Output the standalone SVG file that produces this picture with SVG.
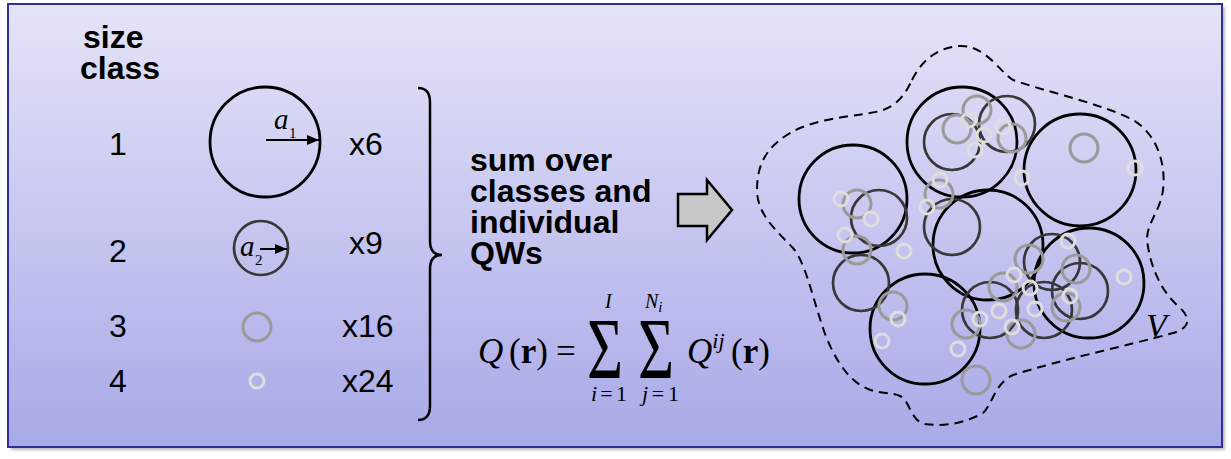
<svg xmlns="http://www.w3.org/2000/svg" width="1231" height="459" viewBox="0 0 1231 459">
<defs>
  <linearGradient id="bg" x1="0" y1="0" x2="0" y2="1">
    <stop offset="0" stop-color="#E4E4F9"/>
    <stop offset="1" stop-color="#A9A9E8"/>
  </linearGradient>
  <filter id="sh" x="-5%" y="-5%" width="110%" height="110%">
    <feGaussianBlur stdDeviation="1.5"/>
  </filter>
  <marker id="ah" viewBox="0 0 12 10" refX="12" refY="5" markerWidth="12" markerHeight="10" markerUnits="userSpaceOnUse" orient="auto">
    <path d="M0,0 L12,5 L0,10 Z" fill="#000"/>
  </marker>
  <style>
    .lbl{font-family:"Liberation Sans",Arial,sans-serif;font-size:32px;fill:#000}
    .b{font-weight:bold}
    .m{font-family:"Liberation Serif","Times New Roman",serif;fill:#000}
    .c1{fill:none;stroke:#000;stroke-width:2.8}
    .c2{fill:none;stroke:#383838;stroke-width:2.7}
    .c3{fill:none;stroke:#9a9a9a;stroke-width:3}
    .c4{fill:none;stroke:#dedede;stroke-width:3}
  </style>
</defs>
<rect x="11" y="7" width="1214" height="443" fill="#888" opacity="0.6" filter="url(#sh)"/>
<rect x="8" y="4" width="1214" height="443" fill="url(#bg)" stroke="#2E3192" stroke-width="2"/>

<g id="header">
  <text class="lbl b" x="83" y="48">size</text>
  <text class="lbl b" x="80" y="79">class</text>
</g>

<g id="class1">
  <text class="lbl" x="109" y="155">1</text>
  <circle class="c1" cx="265" cy="142" r="55"/>
  <line x1="266" y1="140" x2="319" y2="140" stroke="#000" stroke-width="2" marker-end="url(#ah)"/>
  <text class="m" x="274" y="129" font-size="29" font-style="italic">a</text>
  <text class="m" x="289" y="138" font-size="15">1</text>
  <text class="lbl" x="349" y="155">x6</text>
</g>
<g id="class2">
  <text class="lbl" x="109" y="262">2</text>
  <circle class="c2" cx="261" cy="248" r="27"/>
  <line x1="260" y1="249" x2="287" y2="249" stroke="#000" stroke-width="2" marker-end="url(#ah)"/>
  <text class="m" x="240" y="256" font-size="29" font-style="italic">a</text>
  <text class="m" x="255" y="265" font-size="15">2</text>
  <text class="lbl" x="349" y="254">x9</text>
</g>
<g id="class3">
  <text class="lbl" x="109" y="337">3</text>
  <circle class="c3" cx="257" cy="327" r="14"/>
  <text class="lbl" x="342" y="337">x16</text>
</g>
<g id="class4">
  <text class="lbl" x="109" y="392">4</text>
  <circle class="c4" cx="257" cy="381" r="7"/>
  <text class="lbl" x="342" y="392">x24</text>
</g>

<g id="brace">
  <path d="M418,88 Q430,88 430,102 L430,241 Q430,255 442,255 Q430,255 430,269 L430,406 Q430,420 418,420" fill="none" stroke="#000" stroke-width="2.5"/>
</g>

<g id="sumtext">
  <text class="lbl b" x="470" y="171">sum over</text>
  <text class="lbl b" x="470" y="202">classes and</text>
  <text class="lbl b" x="470" y="233">individual</text>
  <text class="lbl b" x="470" y="264">QWs</text>
</g>

<g id="arrow">
  <path d="M678,194 L707,194 L707,180 L732,210 L707,240 L707,226 L678,226 Z" fill="#C8C8C8" stroke="#000" stroke-width="2.5" stroke-linejoin="miter"/>
</g>

<g id="formula" class="m">
  <text x="478" y="363" font-size="35"><tspan font-style="italic">Q</tspan><tspan x="509">(</tspan><tspan font-weight="bold">r</tspan><tspan>)</tspan><tspan x="556">=</tspan></text>
  <text transform="translate(587,378) scale(1,1.4)" font-size="62">Σ</text>
  <text transform="translate(638,378) scale(1,1.4)" font-size="62">Σ</text>
  <text x="605" y="308" font-size="20" font-style="italic">I</text>
  <text x="645" y="308" font-size="20" font-style="italic">N<tspan font-size="15" dy="4">i</tspan></text>
  <text x="591" y="401" font-size="22" textLength="36" lengthAdjust="spacing"><tspan font-style="italic">i</tspan>=1</text>
  <text x="642" y="401" font-size="22" textLength="37" lengthAdjust="spacing"><tspan font-style="italic">j</tspan>=1</text>
  <text x="687" y="363" font-size="35"><tspan font-style="italic">Q</tspan><tspan font-size="22" font-style="italic" dy="-15">ij</tspan><tspan dy="15" x="731">(</tspan><tspan font-weight="bold">r</tspan><tspan>)</tspan></text>
</g>

<g id="volume">
  <path d="M912,80 C922,60 938,47 960,46 C985,45 1000,72 1013,80 C1050,93 1100,103 1133,120 C1158,135 1166,165 1163,190 C1160,212 1147,222 1147,240 C1150,265 1160,290 1178,306 C1192,318 1190,328 1173,333 C1130,345 1060,360 1013,375 C995,383 992,405 983,413 C965,423 945,427 925,424 C910,421 910,400 900,396 C892,392 880,394 868,389 C845,380 830,350 822,325 C812,295 805,262 793,248 C778,232 757,215 757,190 C757,160 770,142 800,128 C830,116 860,116 880,111 C897,106 905,95 912,80 Z" fill="none" stroke="#000" stroke-width="2" stroke-dasharray="9 6"/>
  <text class="m" x="1146" y="337" font-size="34" font-style="italic">V</text>
</g>

<g id="cluster">
  <g id="big">
    <circle class="c1" cx="853" cy="199" r="54"/>
    <circle class="c1" cx="962" cy="142" r="55"/>
    <circle class="c1" cx="1080" cy="170" r="56"/>
    <circle class="c1" cx="988" cy="245" r="55"/>
    <circle class="c1" cx="1089" cy="283" r="55"/>
    <circle class="c1" cx="925" cy="329" r="55"/>
  </g>
  <g id="medium">
    <circle class="c2" cx="879" cy="218" r="28"/>
    <circle class="c2" cx="952" cy="142" r="28"/>
    <circle class="c2" cx="952" cy="227" r="28"/>
    <circle class="c2" cx="1007" cy="124" r="28"/>
    <circle class="c2" cx="861" cy="283" r="28"/>
    <circle class="c2" cx="990" cy="310" r="28"/>
    <circle class="c2" cx="1044" cy="310" r="28"/>
    <circle class="c2" cx="1052" cy="262" r="28"/>
    <circle class="c2" cx="1080" cy="291" r="28"/>
  </g>
  <g id="small">
    <circle class="c3" cx="857" cy="204" r="14"/>
    <circle class="c3" cx="977" cy="110" r="14"/>
    <circle class="c3" cx="957" cy="129" r="14"/>
    <circle class="c3" cx="939" cy="194" r="14"/>
    <circle class="c3" cx="857" cy="250" r="14"/>
    <circle class="c3" cx="1012" cy="138" r="14"/>
    <circle class="c3" cx="1084" cy="148" r="14"/>
    <circle class="c3" cx="1029" cy="259" r="14"/>
    <circle class="c3" cx="1076" cy="269" r="14"/>
    <circle class="c3" cx="1003" cy="287" r="14"/>
    <circle class="c3" cx="1066" cy="307" r="14"/>
    <circle class="c3" cx="1021" cy="334" r="14"/>
    <circle class="c3" cx="976" cy="380" r="14"/>
    <circle class="c3" cx="893" cy="306" r="14"/>
    <circle class="c3" cx="966" cy="324" r="14"/>
  </g>
  <g id="tiny">
    <circle class="c4" cx="841" cy="199" r="7"/>
    <circle class="c4" cx="871" cy="219" r="7"/>
    <circle class="c4" cx="845" cy="235" r="7"/>
    <circle class="c4" cx="904" cy="251" r="7"/>
    <circle class="c4" cx="940" cy="180" r="7"/>
    <circle class="c4" cx="927" cy="207" r="7"/>
    <circle class="c4" cx="969" cy="120" r="7"/>
    <circle class="c4" cx="975" cy="150" r="7"/>
    <circle class="c4" cx="984" cy="135" r="7"/>
    <circle class="c4" cx="1003" cy="127" r="7"/>
    <circle class="c4" cx="1022" cy="178" r="7"/>
    <circle class="c4" cx="1135" cy="168" r="7"/>
    <circle class="c4" cx="1068" cy="241" r="7"/>
    <circle class="c4" cx="898" cy="319" r="7"/>
    <circle class="c4" cx="882" cy="341" r="7"/>
    <circle class="c4" cx="958" cy="349" r="7"/>
    <circle class="c4" cx="980" cy="319" r="7"/>
    <circle class="c4" cx="1014" cy="275" r="7"/>
    <circle class="c4" cx="1030" cy="288" r="7"/>
    <circle class="c4" cx="1070" cy="296" r="7"/>
    <circle class="c4" cx="999" cy="311" r="7"/>
    <circle class="c4" cx="1035" cy="309" r="7"/>
    <circle class="c4" cx="1012" cy="327" r="7"/>
    <circle class="c4" cx="1124" cy="277" r="7"/>
  </g>
</g>
</svg>
